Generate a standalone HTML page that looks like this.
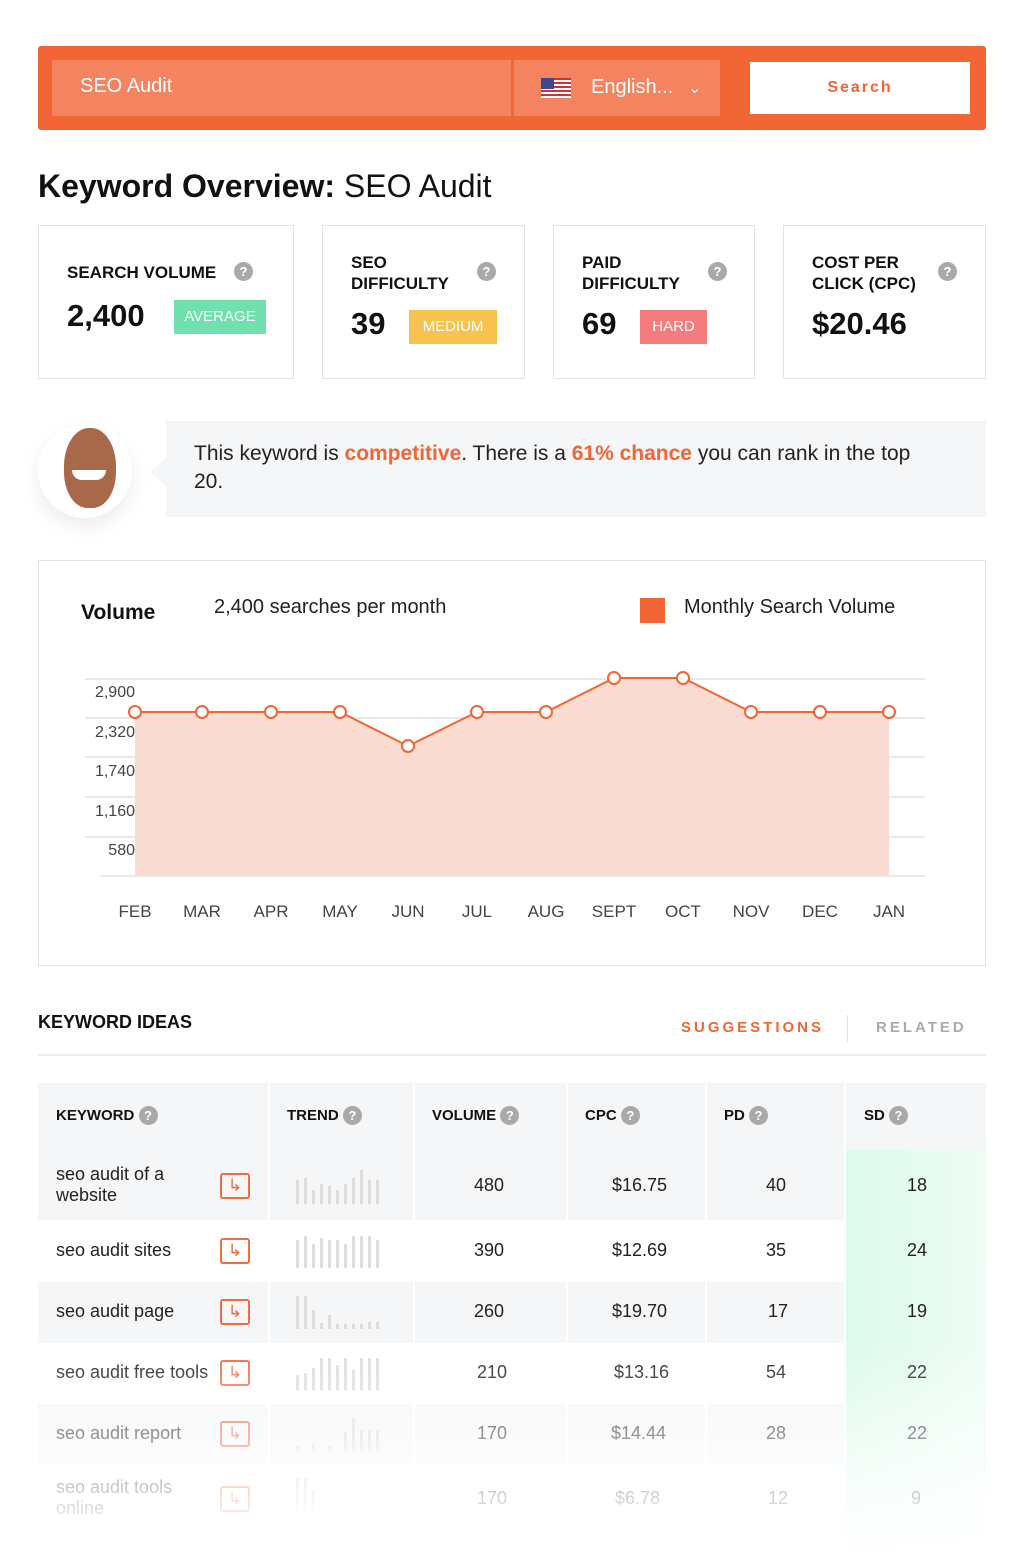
<!DOCTYPE html>
<html><head><meta charset="utf-8"><style>
*{box-sizing:border-box;margin:0;padding:0}
body{width:1024px;height:1567px;background:#fff;font-family:"Liberation Sans",sans-serif;color:#222;position:relative;overflow:hidden}
.abs{position:absolute}
.card{position:absolute;top:225px;height:154px;border:1px solid #e3e3e3;background:#fff}
.card .t{position:absolute;left:28px;font-weight:bold;font-size:17px;line-height:21px;color:#111}
.card .v{position:absolute;left:28px;top:80px;font-weight:bold;font-size:31px;color:#111}
.q{display:inline-block;width:19px;height:19px;border-radius:50%;background:#a9a9a9;color:#fff;font-size:13px;text-align:center;line-height:19px;font-weight:bold}
.badge{position:absolute;color:#fff;font-size:15px;text-align:center;line-height:34px;height:34px}
.th{position:absolute;top:1106px;font-weight:bold;font-size:15px;color:#111}
.row{position:absolute;left:38px;width:947px}
.cell{position:absolute;font-size:18px;color:#222}
.arr{position:absolute;left:182px;width:30px;height:26px;border:2px solid #f26a3e;border-radius:3px;color:#f26a3e;font-size:17px;text-align:center;line-height:21px}
</style></head><body>
<div class="abs" style="left:38px;top:46px;width:948px;height:84px;background:#f26535;border-radius:3px"></div>
<div class="abs" style="left:52px;top:60px;width:459px;height:56px;background:#f4845f"></div>
<div class="abs" style="left:80px;top:75px;color:#fff;font-size:20px">SEO Audit</div>
<div class="abs" style="left:514px;top:60px;width:206px;height:56px;background:#f4845f"></div>
<div class="abs" style="left:541px;top:78px;width:30px;height:20px;background:repeating-linear-gradient(#c33 0 2px,#fff 2px 4px)"><div style="width:13px;height:11px;background:#3a4a8c"></div></div>
<div class="abs" style="left:591px;top:76px;color:#fff;font-size:20px">English...</div>
<div class="abs" style="left:688px;top:78px;color:#fff;font-size:16px">⌄</div>
<div class="abs" style="left:750px;top:62px;width:220px;height:52px;background:#fff;color:#f26535;font-weight:bold;font-size:16px;letter-spacing:2px;text-align:center;line-height:52px">Search</div>
<div class="abs" style="left:38px;top:168px;font-size:32px;color:#111"><b>Keyword Overview:</b> SEO Audit</div>

<div class="card" style="left:38px;width:256px"><div class="t" style="top:36px">SEARCH VOLUME</div><span class="q abs" style="left:195px;top:36px">?</span><div class="v" style="top:72px">2,400</div><div class="badge" style="left:135px;top:74px;width:92px;background:#6fe0ae">AVERAGE</div></div>
<div class="card" style="left:322px;width:203px"><div class="t" style="top:26px">SEO<br>DIFFICULTY</div><span class="q abs" style="left:154px;top:36px">?</span><div class="v">39</div><div class="badge" style="left:86px;top:84px;width:88px;background:#f7c24f">MEDIUM</div></div>
<div class="card" style="left:553px;width:202px"><div class="t" style="top:26px">PAID<br>DIFFICULTY</div><span class="q abs" style="left:154px;top:36px">?</span><div class="v">69</div><div class="badge" style="left:86px;top:84px;width:67px;background:#f47c7c">HARD</div></div>
<div class="card" style="left:783px;width:203px"><div class="t" style="top:26px">COST PER<br>CLICK (CPC)</div><span class="q abs" style="left:154px;top:36px">?</span><div class="v">$20.46</div></div>

<div class="abs" style="left:166px;top:421px;width:820px;height:96px;background:#f5f6f8"></div>
<div class="abs" style="left:150px;top:458px;width:0;height:0;border-top:14px solid transparent;border-bottom:14px solid transparent;border-right:16px solid #f5f6f8"></div>
<div class="abs" style="left:38px;top:424px;width:94px;height:94px;border-radius:50%;background:#fff;box-shadow:0 8px 20px rgba(0,0,0,.08)"></div>
<div class="abs" style="left:64px;top:428px;width:52px;height:80px;border-radius:48% 48% 45% 45%;background:#a8694a"></div>
<div class="abs" style="left:72px;top:470px;width:34px;height:10px;border-radius:0 0 16px 16px;background:#fff"></div>
<div class="abs" style="left:194px;top:440px;width:740px;font-size:21px;line-height:28px;color:#222">This keyword is <b style="color:#f26535">competitive</b>. There is a <b style="color:#f26535">61% chance</b> you can rank in the top 20.</div>

<div class="abs" style="left:38px;top:560px;width:948px;height:406px;border:1px solid #e3e3e3"></div>
<div class="abs" style="left:81px;top:601px;font-weight:bold;font-size:21px;color:#111">Volume</div>
<div class="abs" style="left:214px;top:596px;font-size:20px">2,400 searches per month</div>
<div class="abs" style="left:640px;top:598px;width:25px;height:25px;background:#f26535"></div>
<div class="abs" style="left:684px;top:596px;font-size:20px">Monthly Search Volume</div>
<svg class="abs" style="left:0;top:0" width="1024" height="960">
<g stroke="#e2e2e2" stroke-width="1.5"><line x1="85" y1="679" x2="925" y2="679"/><line x1="85" y1="718" x2="925" y2="718"/><line x1="85" y1="757" x2="925" y2="757"/><line x1="85" y1="797" x2="925" y2="797"/><line x1="85" y1="837" x2="925" y2="837"/><line x1="100" y1="876" x2="925" y2="876"/></g>
<polygon fill="#fbdcd2" points="135,876 135,712 202,712 271,712 340,712 408,746 477,712 546,712 614,678 683,678 751,712 820,712 889,712 889,876"/>
<polyline fill="none" stroke="#f26535" stroke-width="2" points="135,712 202,712 271,712 340,712 408,746 477,712 546,712 614,678 683,678 751,712 820,712 889,712"/>
<g fill="#fff" stroke="#f26535" stroke-width="2"><circle cx="135" cy="712" r="6"/><circle cx="202" cy="712" r="6"/><circle cx="271" cy="712" r="6"/><circle cx="340" cy="712" r="6"/><circle cx="408" cy="746" r="6"/><circle cx="477" cy="712" r="6"/><circle cx="546" cy="712" r="6"/><circle cx="614" cy="678" r="6"/><circle cx="683" cy="678" r="6"/><circle cx="751" cy="712" r="6"/><circle cx="820" cy="712" r="6"/><circle cx="889" cy="712" r="6"/></g>
<g font-family="Liberation Sans" font-size="16" fill="#444" text-anchor="end"><text x="135" y="697">2,900</text><text x="135" y="737">2,320</text><text x="135" y="776">1,740</text><text x="135" y="816">1,160</text><text x="135" y="855">580</text></g>
<g font-family="Liberation Sans" font-size="17" fill="#444" text-anchor="middle"><text x="135" y="917">FEB</text><text x="202" y="917">MAR</text><text x="271" y="917">APR</text><text x="340" y="917">MAY</text><text x="408" y="917">JUN</text><text x="477" y="917">JUL</text><text x="546" y="917">AUG</text><text x="614" y="917">SEPT</text><text x="683" y="917">OCT</text><text x="751" y="917">NOV</text><text x="820" y="917">DEC</text><text x="889" y="917">JAN</text></g>
</svg>

<div class="abs" style="left:38px;top:1012px;font-weight:bold;font-size:18px;color:#111">KEYWORD IDEAS</div>
<div class="abs" style="left:681px;top:1019px;font-weight:bold;font-size:15px;letter-spacing:3px;color:#f26535">SUGGESTIONS</div>
<div class="abs" style="left:847px;top:1015px;width:1px;height:28px;background:#e3e3e3"></div>
<div class="abs" style="left:876px;top:1019px;font-weight:bold;font-size:15px;letter-spacing:3px;color:#aaa">RELATED</div>
<div class="abs" style="left:38px;top:1054px;width:948px;height:2px;background:#eee"></div>

<div class="abs" style="left:38px;top:1083px;width:948px;height:67px;background:#f5f6f8"></div>
<div class="row" style="top:1150px;height:70px;background:#f5f6f8"></div>
<div class="row" style="top:1282px;height:61px;background:#f5f6f8"></div>
<div class="row" style="top:1404px;height:61px;background:#f5f6f8"></div>
<div class="abs" style="left:845px;top:1150px;width:141px;height:417px;background:linear-gradient(90deg,#dcfaeb,#eefdf5)"></div>
<div class="abs" style="left:268px;top:1083px;width:2px;height:484px;background:#fff"></div>
<div class="abs" style="left:413px;top:1083px;width:2px;height:484px;background:#fff"></div>
<div class="abs" style="left:566px;top:1083px;width:2px;height:484px;background:#fff"></div>
<div class="abs" style="left:705px;top:1083px;width:2px;height:484px;background:#fff"></div>
<div class="abs" style="left:844px;top:1083px;width:2px;height:484px;background:#fff"></div>

<div class="th" style="left:56px">KEYWORD <span class="q">?</span></div>
<div class="th" style="left:287px">TREND <span class="q">?</span></div>
<div class="th" style="left:432px">VOLUME <span class="q">?</span></div>
<div class="th" style="left:585px">CPC <span class="q">?</span></div>
<div class="th" style="left:724px">PD <span class="q">?</span></div>
<div class="th" style="left:864px">SD <span class="q">?</span></div>

<svg class="abs" style="left:290px;top:1160px" width="110" height="360">
<g fill="#ddd">
<rect x="6" y="20" width="3" height="24"/><rect x="14" y="18" width="3" height="26"/><rect x="22" y="30" width="3" height="14"/><rect x="30" y="24" width="3" height="20"/><rect x="38" y="26" width="3" height="18"/><rect x="46" y="30" width="3" height="14"/><rect x="54" y="24" width="3" height="20"/><rect x="62" y="18" width="3" height="26"/><rect x="70" y="10" width="3" height="34"/><rect x="78" y="20" width="3" height="24"/><rect x="86" y="20" width="3" height="24"/>
<rect x="6" y="80" width="3" height="28"/><rect x="14" y="76" width="3" height="32"/><rect x="22" y="84" width="3" height="24"/><rect x="30" y="78" width="3" height="30"/><rect x="38" y="80" width="3" height="28"/><rect x="46" y="80" width="3" height="28"/><rect x="54" y="84" width="3" height="24"/><rect x="62" y="76" width="3" height="32"/><rect x="70" y="76" width="3" height="32"/><rect x="78" y="76" width="3" height="32"/><rect x="86" y="80" width="3" height="28"/>
<rect x="6" y="136" width="3" height="33"/><rect x="14" y="136" width="3" height="33"/><rect x="22" y="150" width="3" height="19"/><rect x="30" y="163" width="3" height="6"/><rect x="38" y="155" width="3" height="14"/><rect x="46" y="164" width="3" height="5"/><rect x="54" y="164" width="3" height="5"/><rect x="62" y="164" width="3" height="5"/><rect x="70" y="164" width="3" height="5"/><rect x="78" y="162" width="3" height="7"/><rect x="86" y="162" width="3" height="7"/>
<rect x="6" y="215" width="3" height="15"/><rect x="14" y="213" width="3" height="17"/><rect x="22" y="208" width="3" height="22"/><rect x="30" y="198" width="3" height="32"/><rect x="38" y="198" width="3" height="32"/><rect x="46" y="205" width="3" height="25"/><rect x="54" y="198" width="3" height="32"/><rect x="62" y="210" width="3" height="20"/><rect x="70" y="198" width="3" height="32"/><rect x="78" y="198" width="3" height="32"/><rect x="86" y="198" width="3" height="32"/>
<rect x="6" y="286" width="3" height="5"/><rect x="22" y="284" width="3" height="7"/><rect x="38" y="286" width="3" height="5"/><rect x="54" y="272" width="3" height="19"/><rect x="62" y="258" width="3" height="33"/><rect x="70" y="270" width="3" height="21"/><rect x="78" y="270" width="3" height="21"/><rect x="86" y="270" width="3" height="21"/>
<rect x="6" y="318" width="3" height="33"/><rect x="14" y="318" width="3" height="33"/><rect x="22" y="330" width="3" height="21"/>
</g></svg>

<div class="cell" style="left:56px;top:1164px;line-height:21px">seo audit of a<br>website</div><div class="arr" style="left:220px;top:1173px">↳</div>
<div class="cell" style="left:56px;top:1240px">seo audit sites</div><div class="arr" style="left:220px;top:1238px">↳</div>
<div class="cell" style="left:56px;top:1301px">seo audit page</div><div class="arr" style="left:220px;top:1299px">↳</div>
<div class="cell" style="left:56px;top:1362px">seo audit free tools</div><div class="arr" style="left:220px;top:1360px">↳</div>
<div class="cell" style="left:56px;top:1423px">seo audit report</div><div class="arr" style="left:220px;top:1421px">↳</div>
<div class="cell" style="left:56px;top:1477px;line-height:21px">seo audit tools<br>online</div><div class="arr" style="left:220px;top:1486px">↳</div>

<div class="cell" style="left:474px;top:1175px">480</div><div class="cell" style="left:612px;top:1175px">$16.75</div><div class="cell" style="left:766px;top:1175px">40</div><div class="cell" style="left:907px;top:1175px">18</div>
<div class="cell" style="left:474px;top:1240px">390</div><div class="cell" style="left:612px;top:1240px">$12.69</div><div class="cell" style="left:766px;top:1240px">35</div><div class="cell" style="left:907px;top:1240px">24</div>
<div class="cell" style="left:474px;top:1301px">260</div><div class="cell" style="left:612px;top:1301px">$19.70</div><div class="cell" style="left:768px;top:1301px">17</div><div class="cell" style="left:907px;top:1301px">19</div>
<div class="cell" style="left:477px;top:1362px">210</div><div class="cell" style="left:614px;top:1362px">$13.16</div><div class="cell" style="left:766px;top:1362px">54</div><div class="cell" style="left:907px;top:1362px">22</div>
<div class="cell" style="left:477px;top:1423px">170</div><div class="cell" style="left:611px;top:1423px">$14.44</div><div class="cell" style="left:766px;top:1423px">28</div><div class="cell" style="left:907px;top:1423px">22</div>
<div class="cell" style="left:477px;top:1488px">170</div><div class="cell" style="left:615px;top:1488px">$6.78</div><div class="cell" style="left:768px;top:1488px">12</div><div class="cell" style="left:911px;top:1488px">9</div>

<div class="abs" style="left:0;top:1340px;width:1024px;height:227px;background:linear-gradient(rgba(255,255,255,0),rgba(255,255,255,.55) 45%,rgba(255,255,255,.85) 75%,#fff)"></div>
</body></html>
